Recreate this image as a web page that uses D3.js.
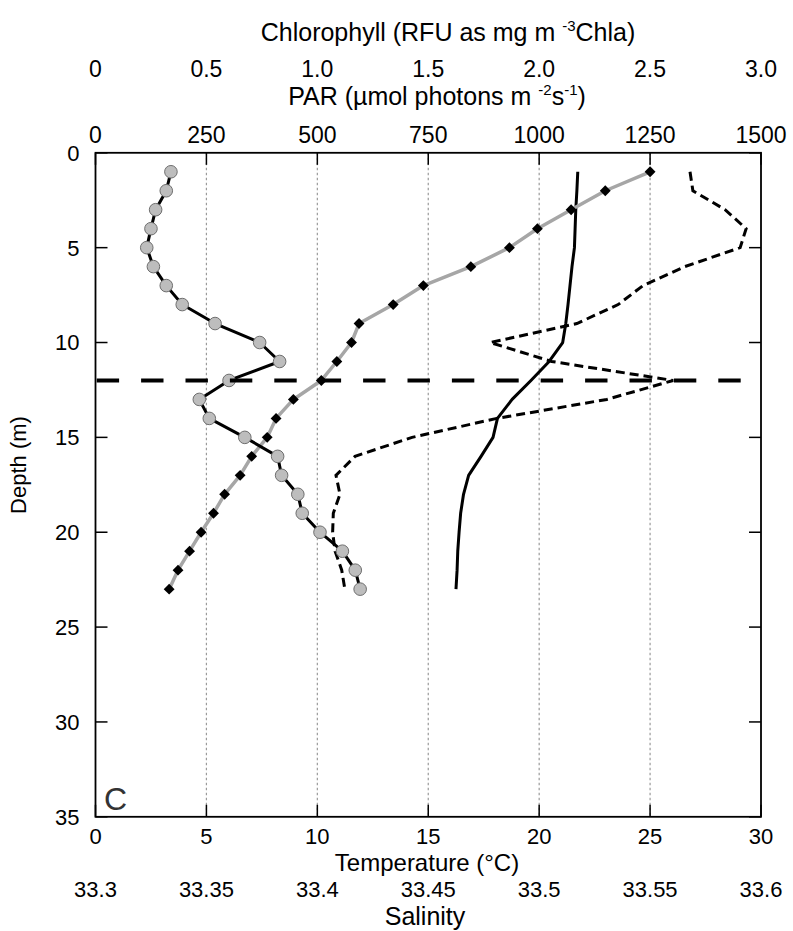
<!DOCTYPE html>
<html>
<head>
<meta charset="utf-8">
<script src="https://cdn.jsdelivr.net/npm/d3@7"></script>
<style>
  html, body { margin: 0; padding: 0; background: #fff; }
  svg { display: block; }
  text { font-family: "Liberation Sans", Arial, Helvetica, sans-serif; fill: #000; }
</style>
</head>
<body>
<svg id="chart" width="793" height="931"></svg>
<script>
// Sampling depths (m)
const depths = [1,2,3,4,5,6,7,8,9,10,11,12,13,14,15,16,17,18,19,20,21,22,23];
// Chlorophyll (RFU as mg m-3 Chla)
const chlorophyll = [0.340,0.319,0.271,0.250,0.231,0.261,0.319,0.391,0.539,0.740,0.830,0.602,
                     0.468,0.513,0.673,0.821,0.839,0.912,0.932,1.012,1.113,1.171,1.193];
// PAR (umol photons m-2 s-1)
const par = [1250,1149,1072,996,933,846,739,671,594,577,544,509,
             446,407,387,352,326,291,266,238,212,186,166];
// Temperature (deg C)
const temperature = [21.74,21.70,21.65,21.62,21.59,21.48,21.39,21.30,21.20,21.06,20.45,19.63,
                     18.78,18.12,17.92,17.38,16.82,16.59,16.46,16.39,16.33,16.30,16.25];
// Salinity
const salinity = [33.5680,33.5693,33.5838,33.5933,33.5906,33.5656,33.5468,33.5356,33.5170,33.4779,33.5057,33.5604,
                  33.5305,33.4809,33.4427,33.4170,33.4084,33.4102,33.4072,33.4069,33.4080,33.4110,33.4124];
// Depth of the horizontal reference line (m)
const markerDepth = 12;

// Axis ticks and labels
const depthTicks = [0,5,10,15,20,25,30,35];
const tempTicks = [0,5,10,15,20,25,30];
const salTicks = [33.3,33.35,33.4,33.45,33.5,33.55,33.6];
const salLabels = ["33.3","33.35","33.4","33.45","33.5","33.55","33.6"];
const chlTicks = [0,0.5,1.0,1.5,2.0,2.5,3.0];
const chlLabels = ["0","0.5","1.0","1.5","2.0","2.5","3.0"];
const parTicks = [0,250,500,750,1000,1250,1500];

const svg = d3.select("#chart");
const L = 95.5, R = 761, T = 152.8, B = 816.8;

const y = d3.scaleLinear().domain([0,35]).range([T,B]);
const xT = d3.scaleLinear().domain([0,30]).range([L,R]);
const xS = d3.scaleLinear().domain([33.3,33.6]).range([L,R]);
const xC = d3.scaleLinear().domain([0,3]).range([L,R]);
const xP = d3.scaleLinear().domain([0,1500]).range([L,R]);

// Vertical dotted grid lines at the interior temperature ticks
svg.append("g").selectAll("line").data(tempTicks.slice(1,-1)).join("line")
  .attr("x1", d => xT(d)).attr("x2", d => xT(d))
  .attr("y1", T).attr("y2", B)
  .attr("stroke", "#9a9a9a").attr("stroke-width", 1.2).attr("stroke-dasharray", "2.5,2.5");

// Inside tick marks on all four sides
const tickLen = 12;
const axG = svg.append("g").attr("stroke", "#000").attr("stroke-width", 1.5);
axG.selectAll(".tt").data(tempTicks).join("line")
  .attr("x1", d => xT(d)).attr("x2", d => xT(d)).attr("y1", T).attr("y2", T + tickLen);
axG.selectAll(".tb").data(tempTicks).join("line")
  .attr("x1", d => xT(d)).attr("x2", d => xT(d)).attr("y1", B).attr("y2", B - tickLen);
axG.selectAll(".tl").data(depthTicks).join("line")
  .attr("x1", L).attr("x2", L + tickLen).attr("y1", d => y(d)).attr("y2", d => y(d));
axG.selectAll(".tr").data(depthTicks).join("line")
  .attr("x1", R).attr("x2", R - tickLen).attr("y1", d => y(d)).attr("y2", d => y(d));

// Frame
svg.append("rect").attr("x", L).attr("y", T).attr("width", R - L).attr("height", B - T)
  .attr("fill", "none").attr("stroke", "#000").attr("stroke-width", 1.8);

// Salinity profile (short dashes)
svg.append("path").datum(depths.map((d,i) => [salinity[i], d]))
  .attr("fill", "none").attr("stroke", "#000").attr("stroke-width", 3)
  .attr("stroke-dasharray", "9,5")
  .attr("d", d3.line().x(d => xS(d[0])).y(d => y(d[1])));

// Temperature profile (solid)
svg.append("path").datum(depths.map((d,i) => [temperature[i], d]))
  .attr("fill", "none").attr("stroke", "#000").attr("stroke-width", 3)
  .attr("stroke-linejoin", "round")
  .attr("d", d3.line().x(d => xT(d[0])).y(d => y(d[1])));

// PAR profile: grey line with black diamonds
svg.append("path").datum(depths.map((d,i) => [par[i], d]))
  .attr("fill", "none").attr("stroke", "#a6a6a6").attr("stroke-width", 3.5)
  .attr("stroke-linejoin", "round")
  .attr("d", d3.line().x(d => xP(d[0])).y(d => y(d[1])));
svg.append("g").selectAll("path").data(depths.map((d,i) => [par[i], d])).join("path")
  .attr("transform", d => `translate(${xP(d[0])},${y(d[1])})`)
  .attr("d", d3.symbol(d3.symbolDiamond2, 75))
  .attr("fill", "#000");

// Chlorophyll profile: black line with grey circles
svg.append("path").datum(depths.map((d,i) => [chlorophyll[i], d]))
  .attr("fill", "none").attr("stroke", "#000").attr("stroke-width", 3)
  .attr("stroke-linejoin", "round")
  .attr("d", d3.line().x(d => xC(d[0])).y(d => y(d[1])));
svg.append("g").selectAll("circle").data(depths.map((d,i) => [chlorophyll[i], d])).join("circle")
  .attr("cx", d => xC(d[0])).attr("cy", d => y(d[1])).attr("r", 6.3)
  .attr("fill", "#bdbdbd").attr("stroke", "#6e6e6e").attr("stroke-width", 1);

// Long-dash horizontal line
svg.append("line")
  .attr("x1", 96.7).attr("x2", 742).attr("y1", y(markerDepth)).attr("y2", y(markerDepth))
  .attr("stroke", "#000").attr("stroke-width", 4).attr("stroke-dasharray", "22.4,22");

// Tick labels
svg.append("g").attr("font-size", 22).attr("text-anchor", "end")
  .selectAll("text").data(depthTicks).join("text")
  .attr("x", 79.5).attr("y", d => y(d)).attr("dy", "0.36em").text(d => d);

svg.append("g").attr("font-size", 23).attr("text-anchor", "middle")
  .selectAll("text").data(chlTicks).join("text")
  .attr("x", d => xC(d)).attr("y", 77).text((d,i) => chlLabels[i]);
svg.append("g").attr("font-size", 23).attr("text-anchor", "middle")
  .selectAll("text").data(parTicks).join("text")
  .attr("x", d => xP(d)).attr("y", 143).text(d => d);
svg.append("g").attr("font-size", 22).attr("text-anchor", "middle")
  .selectAll("text").data(tempTicks).join("text")
  .attr("x", d => xT(d)).attr("y", 844).text(d => d);
svg.append("g").attr("font-size", 22).attr("text-anchor", "middle")
  .selectAll("text").data(salTicks).join("text")
  .attr("x", d => xS(d)).attr("y", 897).text((d,i) => salLabels[i]);

// Axis titles
const chlTitle = svg.append("text").attr("font-size", 25)
  .attr("text-anchor", "middle").attr("x", 448).attr("y", 41);
chlTitle.append("tspan").text("Chlorophyll (RFU as mg m ");
chlTitle.append("tspan").attr("font-size", 15).attr("dy", -10).text("-3");
chlTitle.append("tspan").attr("dy", 10).text("Chla)");

const parTitle = svg.append("text").attr("font-size", 25)
  .attr("text-anchor", "middle").attr("x", 437).attr("y", 105);
parTitle.append("tspan").text("PAR (\u00b5mol photons m ");
parTitle.append("tspan").attr("font-size", 15).attr("dy", -10).text("-2");
parTitle.append("tspan").attr("dy", 10).text("s");
parTitle.append("tspan").attr("font-size", 15).attr("dy", -10).text("-1");
parTitle.append("tspan").attr("dy", 10).text(")");

svg.append("text").attr("font-size", 24).attr("text-anchor", "middle")
  .attr("x", 427).attr("y", 871).text("Temperature (\u00b0C)");
svg.append("text").attr("font-size", 25).attr("text-anchor", "middle")
  .attr("x", 425).attr("y", 925).text("Salinity");

svg.append("text").attr("font-size", 22).attr("text-anchor", "middle")
  .attr("transform", "translate(26,465) rotate(-90)").text("Depth (m)");

// Panel letter
svg.append("text").attr("font-size", 32).style("fill", "#333")
  .attr("x", 104).attr("y", 810).text("C");
</script>
</body>
</html>
